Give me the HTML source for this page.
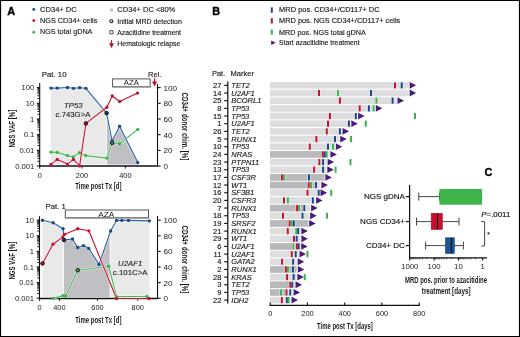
<!DOCTYPE html><html><head><meta charset="utf-8"><style>html,body{margin:0;padding:0;background:#fff;}svg{display:block;will-change:transform;}</style></head><body>
<svg width="520" height="337" viewBox="0 0 520 337" font-family="'Liberation Sans', sans-serif">
<rect x="0" y="0" width="520" height="337" fill="#fff"/>
<text x="7.3" y="15.3" font-size="11" text-anchor="start" font-weight="bold" font-style="normal" fill="#000" stroke="#000" stroke-width="0.35">A</text>
<circle cx="33.8" cy="9.4" r="1.45" fill="#164a88"/>
<text x="40" y="12.1" font-size="7.8" text-anchor="start" font-weight="normal" font-style="normal" fill="#1a1a1a" stroke="#1a1a1a" stroke-width="0.15"  textLength="36.8" lengthAdjust="spacingAndGlyphs">CD34+ DC</text>
<circle cx="33.8" cy="20.6" r="1.45" fill="#c8102e"/>
<text x="40" y="23.2" font-size="7.8" text-anchor="start" font-weight="normal" font-style="normal" fill="#1a1a1a" stroke="#1a1a1a" stroke-width="0.15"  textLength="57.3" lengthAdjust="spacingAndGlyphs">NGS CD34+ cells</text>
<circle cx="33.8" cy="32.2" r="1.45" fill="#3bb54a"/>
<text x="40" y="34.1" font-size="7.8" text-anchor="start" font-weight="normal" font-style="normal" fill="#1a1a1a" stroke="#1a1a1a" stroke-width="0.15"  textLength="52.4" lengthAdjust="spacingAndGlyphs">NGS total gDNA</text>
<rect x="110.1" y="8.5" width="2.9" height="2.9" fill="#bfbfbf"/>
<circle cx="111.4" cy="21.2" r="1.55" fill="none" stroke="#111" stroke-width="1.05"/>
<rect x="109.9" y="30.7" width="3.1" height="3.1" fill="none" stroke="#444" stroke-width="0.9"/>
<line x1="111.5" y1="40.2" x2="111.5" y2="44" stroke="#c8102e" stroke-width="1.2"/>
<polygon points="109,43.3 114,43.3 111.5,48.3" fill="#c8102e"/>
<text x="117.3" y="12.4" font-size="7.8" text-anchor="start" font-weight="normal" font-style="normal" fill="#1a1a1a" stroke="#1a1a1a" stroke-width="0.15"  textLength="58.0" lengthAdjust="spacingAndGlyphs">CD34+ DC &lt;80%</text>
<text x="117.3" y="23.5" font-size="7.8" text-anchor="start" font-weight="normal" font-style="normal" fill="#1a1a1a" stroke="#1a1a1a" stroke-width="0.15"  textLength="64.6" lengthAdjust="spacingAndGlyphs">Initial MRD detection</text>
<text x="117.3" y="34.6" font-size="7.8" text-anchor="start" font-weight="normal" font-style="normal" fill="#1a1a1a" stroke="#1a1a1a" stroke-width="0.15"  textLength="63.7" lengthAdjust="spacingAndGlyphs">Azacitidine treatment</text>
<text x="117.3" y="46.4" font-size="7.8" text-anchor="start" font-weight="normal" font-style="normal" fill="#1a1a1a" stroke="#1a1a1a" stroke-width="0.15"  textLength="63.0" lengthAdjust="spacingAndGlyphs">Hematologic relapse</text>
<text x="41.8" y="76.6" font-size="7.8" text-anchor="start" font-weight="normal" font-style="normal" fill="#1a1a1a" stroke="#1a1a1a" stroke-width="0.15" >Pat. 10</text>
<polygon points="51,88.6 86,88.8 106.2,112.6 106.2,164.6 51,164.6" fill="#e9e9ea"/>
<polygon points="106.9,113.3 112.1,141 119.6,126.3 137.8,162.5 138.8,164.6 106.9,164.6" fill="#c0bfc4"/>
<line x1="39.7" y1="83" x2="39.7" y2="166" stroke="#111" stroke-width="1.1"/>
<line x1="36.800000000000004" y1="87.6" x2="39.7" y2="87.6" stroke="#111" stroke-width="1.1"/>
<text x="34.2" y="90.19999999999999" font-size="7.6" text-anchor="end" font-weight="normal" font-style="normal" fill="#1a1a1a" >100</text>
<line x1="37.400000000000006" y1="98.56" x2="39.7" y2="98.56" stroke="#111" stroke-width="0.9"/>
<line x1="37.400000000000006" y1="95.80" x2="39.7" y2="95.80" stroke="#111" stroke-width="0.9"/>
<line x1="37.400000000000006" y1="93.84" x2="39.7" y2="93.84" stroke="#111" stroke-width="0.9"/>
<line x1="37.400000000000006" y1="92.32" x2="39.7" y2="92.32" stroke="#111" stroke-width="0.9"/>
<line x1="37.400000000000006" y1="91.08" x2="39.7" y2="91.08" stroke="#111" stroke-width="0.9"/>
<line x1="37.400000000000006" y1="90.03" x2="39.7" y2="90.03" stroke="#111" stroke-width="0.9"/>
<line x1="37.400000000000006" y1="89.12" x2="39.7" y2="89.12" stroke="#111" stroke-width="0.9"/>
<line x1="37.400000000000006" y1="88.32" x2="39.7" y2="88.32" stroke="#111" stroke-width="0.9"/>
<line x1="36.800000000000004" y1="103.28" x2="39.7" y2="103.28" stroke="#111" stroke-width="1.1"/>
<text x="34.2" y="105.88" font-size="7.6" text-anchor="end" font-weight="normal" font-style="normal" fill="#1a1a1a" >10</text>
<line x1="37.400000000000006" y1="114.24" x2="39.7" y2="114.24" stroke="#111" stroke-width="0.9"/>
<line x1="37.400000000000006" y1="111.48" x2="39.7" y2="111.48" stroke="#111" stroke-width="0.9"/>
<line x1="37.400000000000006" y1="109.52" x2="39.7" y2="109.52" stroke="#111" stroke-width="0.9"/>
<line x1="37.400000000000006" y1="108.00" x2="39.7" y2="108.00" stroke="#111" stroke-width="0.9"/>
<line x1="37.400000000000006" y1="106.76" x2="39.7" y2="106.76" stroke="#111" stroke-width="0.9"/>
<line x1="37.400000000000006" y1="105.71" x2="39.7" y2="105.71" stroke="#111" stroke-width="0.9"/>
<line x1="37.400000000000006" y1="104.80" x2="39.7" y2="104.80" stroke="#111" stroke-width="0.9"/>
<line x1="37.400000000000006" y1="104.00" x2="39.7" y2="104.00" stroke="#111" stroke-width="0.9"/>
<line x1="36.800000000000004" y1="118.96" x2="39.7" y2="118.96" stroke="#111" stroke-width="1.1"/>
<text x="34.2" y="121.55999999999999" font-size="7.6" text-anchor="end" font-weight="normal" font-style="normal" fill="#1a1a1a" >1</text>
<line x1="37.400000000000006" y1="129.92" x2="39.7" y2="129.92" stroke="#111" stroke-width="0.9"/>
<line x1="37.400000000000006" y1="127.16" x2="39.7" y2="127.16" stroke="#111" stroke-width="0.9"/>
<line x1="37.400000000000006" y1="125.20" x2="39.7" y2="125.20" stroke="#111" stroke-width="0.9"/>
<line x1="37.400000000000006" y1="123.68" x2="39.7" y2="123.68" stroke="#111" stroke-width="0.9"/>
<line x1="37.400000000000006" y1="122.44" x2="39.7" y2="122.44" stroke="#111" stroke-width="0.9"/>
<line x1="37.400000000000006" y1="121.39" x2="39.7" y2="121.39" stroke="#111" stroke-width="0.9"/>
<line x1="37.400000000000006" y1="120.48" x2="39.7" y2="120.48" stroke="#111" stroke-width="0.9"/>
<line x1="37.400000000000006" y1="119.68" x2="39.7" y2="119.68" stroke="#111" stroke-width="0.9"/>
<line x1="36.800000000000004" y1="134.64" x2="39.7" y2="134.64" stroke="#111" stroke-width="1.1"/>
<text x="34.2" y="137.23999999999998" font-size="7.6" text-anchor="end" font-weight="normal" font-style="normal" fill="#1a1a1a" >0.1</text>
<line x1="37.400000000000006" y1="145.60" x2="39.7" y2="145.60" stroke="#111" stroke-width="0.9"/>
<line x1="37.400000000000006" y1="142.84" x2="39.7" y2="142.84" stroke="#111" stroke-width="0.9"/>
<line x1="37.400000000000006" y1="140.88" x2="39.7" y2="140.88" stroke="#111" stroke-width="0.9"/>
<line x1="37.400000000000006" y1="139.36" x2="39.7" y2="139.36" stroke="#111" stroke-width="0.9"/>
<line x1="37.400000000000006" y1="138.12" x2="39.7" y2="138.12" stroke="#111" stroke-width="0.9"/>
<line x1="37.400000000000006" y1="137.07" x2="39.7" y2="137.07" stroke="#111" stroke-width="0.9"/>
<line x1="37.400000000000006" y1="136.16" x2="39.7" y2="136.16" stroke="#111" stroke-width="0.9"/>
<line x1="37.400000000000006" y1="135.36" x2="39.7" y2="135.36" stroke="#111" stroke-width="0.9"/>
<line x1="36.800000000000004" y1="150.32" x2="39.7" y2="150.32" stroke="#111" stroke-width="1.1"/>
<text x="34.2" y="152.92" font-size="7.6" text-anchor="end" font-weight="normal" font-style="normal" fill="#1a1a1a" >0.01</text>
<line x1="37.400000000000006" y1="161.28" x2="39.7" y2="161.28" stroke="#111" stroke-width="0.9"/>
<line x1="37.400000000000006" y1="158.52" x2="39.7" y2="158.52" stroke="#111" stroke-width="0.9"/>
<line x1="37.400000000000006" y1="156.56" x2="39.7" y2="156.56" stroke="#111" stroke-width="0.9"/>
<line x1="37.400000000000006" y1="155.04" x2="39.7" y2="155.04" stroke="#111" stroke-width="0.9"/>
<line x1="37.400000000000006" y1="153.80" x2="39.7" y2="153.80" stroke="#111" stroke-width="0.9"/>
<line x1="37.400000000000006" y1="152.75" x2="39.7" y2="152.75" stroke="#111" stroke-width="0.9"/>
<line x1="37.400000000000006" y1="151.84" x2="39.7" y2="151.84" stroke="#111" stroke-width="0.9"/>
<line x1="37.400000000000006" y1="151.04" x2="39.7" y2="151.04" stroke="#111" stroke-width="0.9"/>
<line x1="36.800000000000004" y1="166.0" x2="39.7" y2="166.0" stroke="#111" stroke-width="1.1"/>
<text x="34.2" y="168.6" font-size="7.6" text-anchor="end" font-weight="normal" font-style="normal" fill="#1a1a1a" >0.001</text>
<line x1="157.5" y1="83.8" x2="157.5" y2="166" stroke="#111" stroke-width="1.1"/>
<line x1="157.5" y1="87.6" x2="160.7" y2="87.6" stroke="#111" stroke-width="1.1"/>
<text x="163.6" y="90.5" font-size="8.1" text-anchor="start" font-weight="normal" font-style="normal" fill="#1a1a1a" >100</text>
<line x1="157.5" y1="103.28" x2="160.7" y2="103.28" stroke="#111" stroke-width="1.1"/>
<text x="163.6" y="106.18" font-size="8.1" text-anchor="start" font-weight="normal" font-style="normal" fill="#1a1a1a" >80</text>
<line x1="157.5" y1="118.96" x2="160.7" y2="118.96" stroke="#111" stroke-width="1.1"/>
<text x="163.6" y="121.86" font-size="8.1" text-anchor="start" font-weight="normal" font-style="normal" fill="#1a1a1a" >60</text>
<line x1="157.5" y1="134.64" x2="160.7" y2="134.64" stroke="#111" stroke-width="1.1"/>
<text x="163.6" y="137.54" font-size="8.1" text-anchor="start" font-weight="normal" font-style="normal" fill="#1a1a1a" >40</text>
<line x1="157.5" y1="150.32" x2="160.7" y2="150.32" stroke="#111" stroke-width="1.1"/>
<text x="163.6" y="153.22" font-size="8.1" text-anchor="start" font-weight="normal" font-style="normal" fill="#1a1a1a" >20</text>
<line x1="157.5" y1="166.0" x2="160.7" y2="166.0" stroke="#111" stroke-width="1.1"/>
<text x="163.6" y="168.9" font-size="8.1" text-anchor="start" font-weight="normal" font-style="normal" fill="#1a1a1a" >0</text>
<line x1="39.2" y1="166" x2="158" y2="166" stroke="#111" stroke-width="1.4"/>
<line x1="39.7" y1="166" x2="39.7" y2="168.6" stroke="#111" stroke-width="0.9"/>
<text x="39.7" y="177.5" font-size="7.4" text-anchor="middle" font-weight="normal" font-style="normal" fill="#1a1a1a" >0</text>
<line x1="82" y1="166" x2="82" y2="168.6" stroke="#111" stroke-width="0.9"/>
<text x="82" y="177.5" font-size="7.4" text-anchor="middle" font-weight="normal" font-style="normal" fill="#1a1a1a" >200</text>
<line x1="125.4" y1="166" x2="125.4" y2="168.6" stroke="#111" stroke-width="0.9"/>
<text x="125.4" y="177.5" font-size="7.4" text-anchor="middle" font-weight="normal" font-style="normal" fill="#1a1a1a" >400</text>
<text x="0" y="0" transform="translate(75.2,189.4) rotate(0)" font-size="8.6" font-weight="bold" fill="#1a1a1a" textLength="46.2" lengthAdjust="spacingAndGlyphs">Time post Tx [d]</text>
<text x="0" y="0" transform="translate(15.1,147.6) rotate(-90)" font-size="8.8" font-weight="bold" fill="#1a1a1a" textLength="37.9" lengthAdjust="spacingAndGlyphs">NGS VAF [%]</text>
<text x="0" y="0" transform="translate(181.6,92.6) rotate(90)" font-size="8.6" font-weight="bold" fill="#1a1a1a" textLength="19.3" lengthAdjust="spacingAndGlyphs">CD34+</text>
<text x="0" y="0" transform="translate(181.6,113.9) rotate(90)" font-size="8.6" font-weight="bold" fill="#1a1a1a" textLength="46.3" lengthAdjust="spacingAndGlyphs">donor chim. [%]</text>
<text x="64" y="107.5" font-size="7.8" text-anchor="start" font-weight="normal" font-style="italic" fill="#1a1a1a" stroke="#1a1a1a" stroke-width="0.12">TP53</text>
<text x="55.6" y="116.9" font-size="7.8" text-anchor="start" font-weight="normal" font-style="normal" fill="#1a1a1a" stroke="#1a1a1a" stroke-width="0.12" textLength="34.8" lengthAdjust="spacingAndGlyphs">c.743G&gt;A</text>
<rect x="112.6" y="78.9" width="37.6" height="7.9" fill="#fff" stroke="#555" stroke-width="1"/>
<line x1="112.6" y1="87" x2="150.2" y2="87" stroke="#888" stroke-width="1"/>
<text x="131.3" y="85.4" font-size="7.2" text-anchor="middle" font-weight="normal" font-style="normal" fill="#1a1a1a"  textLength="15" lengthAdjust="spacingAndGlyphs">AZA</text>
<text x="148.1" y="76.6" font-size="7.5" text-anchor="start" font-weight="normal" font-style="normal" fill="#1a1a1a" stroke="#1a1a1a" stroke-width="0.15" >Rel.</text>
<line x1="154.6" y1="78.3" x2="154.6" y2="82" stroke="#c8102e" stroke-width="1.2"/>
<polygon points="152,81.4 157.2,81.4 154.6,86.6" fill="#c8102e"/>
<polyline points="51,152.1 57.25,152.4 67.5,155.6 73.4,157 79.4,152.75 85.6,155.6 106.9,158.1 112.1,142.9 119.6,143.75 137.75,129.4" fill="none" stroke="#fff" stroke-opacity="0.75" stroke-width="2.25" stroke-linejoin="round"/>
<polyline points="51,152.1 57.25,152.4 67.5,155.6 73.4,157 79.4,152.75 85.6,155.6 106.9,158.1 112.1,142.9 119.6,143.75 137.75,129.4" fill="none" stroke="#4aba56" stroke-width="1.15" stroke-linejoin="round"/>
<polyline points="51,88.1 57.25,88.1 67.5,87.5 73.5,88.3 79.75,87.7 85.9,88.3 106.6,113.1 112.1,141 119.6,126.25 137.75,162.5" fill="none" stroke="#fff" stroke-opacity="0.75" stroke-width="2.2" stroke-linejoin="round"/>
<polyline points="51,88.1 57.25,88.1 67.5,87.5 73.5,88.3 79.75,87.7 85.9,88.3 106.6,113.1 112.1,141 119.6,126.25 137.75,162.5" fill="none" stroke="#2a60a0" stroke-width="1.1" stroke-linejoin="round"/>
<polyline points="51,164.4 57.25,159.4 67.5,164.1 73.4,159.4 79.6,165.9 85.9,123.4 106.9,107.25 112.25,96 119.75,101.5 137.5,93.1" fill="none" stroke="#fff" stroke-opacity="0.75" stroke-width="2.2" stroke-linejoin="round"/>
<polyline points="51,164.4 57.25,159.4 67.5,164.1 73.4,159.4 79.6,165.9 85.9,123.4 106.9,107.25 112.25,96 119.75,101.5 137.5,93.1" fill="none" stroke="#c8102e" stroke-width="1.1" stroke-linejoin="round"/>
<circle cx="51" cy="152.1" r="1.65" fill="#3bb54a"/>
<circle cx="57.25" cy="152.4" r="1.65" fill="#3bb54a"/>
<circle cx="67.5" cy="155.6" r="1.65" fill="#3bb54a"/>
<circle cx="73.4" cy="157" r="1.65" fill="#3bb54a"/>
<circle cx="79.4" cy="152.75" r="1.65" fill="#3bb54a"/>
<circle cx="85.6" cy="155.6" r="1.65" fill="#3bb54a"/>
<circle cx="106.9" cy="158.1" r="1.65" fill="#3bb54a"/>
<circle cx="112.1" cy="142.9" r="1.75" fill="#3bb54a" stroke="#000" stroke-width="0.95"/>
<circle cx="119.6" cy="143.75" r="1.65" fill="#3bb54a"/>
<circle cx="137.75" cy="129.4" r="1.65" fill="#3bb54a"/>
<circle cx="51" cy="88.1" r="1.65" fill="#164a88"/>
<circle cx="57.25" cy="88.1" r="1.65" fill="#164a88"/>
<circle cx="67.5" cy="87.5" r="1.65" fill="#164a88"/>
<circle cx="73.5" cy="88.3" r="1.65" fill="#164a88"/>
<circle cx="79.75" cy="87.7" r="1.65" fill="#164a88"/>
<circle cx="85.9" cy="88.3" r="1.65" fill="#164a88"/>
<circle cx="106.6" cy="113.1" r="1.75" fill="#164a88" stroke="#000" stroke-width="0.95"/>
<circle cx="112.1" cy="141" r="1.65" fill="#164a88"/>
<circle cx="119.6" cy="126.25" r="1.65" fill="#164a88"/>
<circle cx="137.75" cy="162.5" r="1.65" fill="#164a88"/>
<circle cx="51" cy="164.4" r="1.65" fill="#c8102e"/>
<circle cx="57.25" cy="159.4" r="1.65" fill="#c8102e"/>
<circle cx="67.5" cy="164.1" r="1.65" fill="#c8102e"/>
<circle cx="73.4" cy="159.4" r="1.65" fill="#c8102e"/>
<circle cx="79.6" cy="165.9" r="1.65" fill="#c8102e"/>
<circle cx="85.9" cy="123.4" r="1.75" fill="#c8102e" stroke="#000" stroke-width="0.95"/>
<circle cx="106.9" cy="107.25" r="1.65" fill="#c8102e"/>
<circle cx="112.25" cy="96" r="1.65" fill="#c8102e"/>
<circle cx="119.75" cy="101.5" r="1.65" fill="#c8102e"/>
<circle cx="137.5" cy="93.1" r="1.65" fill="#c8102e"/>
<text x="45.5" y="209.4" font-size="7.8" text-anchor="start" font-weight="normal" font-style="normal" fill="#1a1a1a" stroke="#1a1a1a" stroke-width="0.15" >Pat. 1</text>
<polygon points="42.5,220.3 53.1,222.8 63.1,228.8 63.3,232 63.3,297.1 42.5,297.1" fill="#e9e9ea"/>
<polygon points="64,240 72.5,239 77.75,247.5 83.5,245.6 88.75,248.4 99,264.4 109.7,233.6 109.7,297.1 64,297.1" fill="#c0bfc4"/>
<polygon points="110.6,229.5 116.5,220.4 128.5,220.4 149.4,220.9 149.4,297.1 110.6,297.1" fill="#e9e9ea"/>
<line x1="39.5" y1="216.2" x2="39.5" y2="298.5" stroke="#111" stroke-width="1.1"/>
<line x1="36.6" y1="220.2" x2="39.5" y2="220.2" stroke="#111" stroke-width="1.1"/>
<text x="34.0" y="222.79999999999998" font-size="7.6" text-anchor="end" font-weight="normal" font-style="normal" fill="#1a1a1a" >10</text>
<line x1="37.2" y1="231.10" x2="39.5" y2="231.10" stroke="#111" stroke-width="0.9"/>
<line x1="37.2" y1="228.36" x2="39.5" y2="228.36" stroke="#111" stroke-width="0.9"/>
<line x1="37.2" y1="226.41" x2="39.5" y2="226.41" stroke="#111" stroke-width="0.9"/>
<line x1="37.2" y1="224.90" x2="39.5" y2="224.90" stroke="#111" stroke-width="0.9"/>
<line x1="37.2" y1="223.66" x2="39.5" y2="223.66" stroke="#111" stroke-width="0.9"/>
<line x1="37.2" y1="222.62" x2="39.5" y2="222.62" stroke="#111" stroke-width="0.9"/>
<line x1="37.2" y1="221.71" x2="39.5" y2="221.71" stroke="#111" stroke-width="0.9"/>
<line x1="37.2" y1="220.91" x2="39.5" y2="220.91" stroke="#111" stroke-width="0.9"/>
<line x1="36.6" y1="235.79999999999998" x2="39.5" y2="235.79999999999998" stroke="#111" stroke-width="1.1"/>
<text x="34.0" y="238.39999999999998" font-size="7.6" text-anchor="end" font-weight="normal" font-style="normal" fill="#1a1a1a" >10</text>
<line x1="37.2" y1="246.70" x2="39.5" y2="246.70" stroke="#111" stroke-width="0.9"/>
<line x1="37.2" y1="243.96" x2="39.5" y2="243.96" stroke="#111" stroke-width="0.9"/>
<line x1="37.2" y1="242.01" x2="39.5" y2="242.01" stroke="#111" stroke-width="0.9"/>
<line x1="37.2" y1="240.50" x2="39.5" y2="240.50" stroke="#111" stroke-width="0.9"/>
<line x1="37.2" y1="239.26" x2="39.5" y2="239.26" stroke="#111" stroke-width="0.9"/>
<line x1="37.2" y1="238.22" x2="39.5" y2="238.22" stroke="#111" stroke-width="0.9"/>
<line x1="37.2" y1="237.31" x2="39.5" y2="237.31" stroke="#111" stroke-width="0.9"/>
<line x1="37.2" y1="236.51" x2="39.5" y2="236.51" stroke="#111" stroke-width="0.9"/>
<line x1="36.6" y1="251.39999999999998" x2="39.5" y2="251.39999999999998" stroke="#111" stroke-width="1.1"/>
<text x="34.0" y="253.99999999999997" font-size="7.6" text-anchor="end" font-weight="normal" font-style="normal" fill="#1a1a1a" >1</text>
<line x1="37.2" y1="262.30" x2="39.5" y2="262.30" stroke="#111" stroke-width="0.9"/>
<line x1="37.2" y1="259.56" x2="39.5" y2="259.56" stroke="#111" stroke-width="0.9"/>
<line x1="37.2" y1="257.61" x2="39.5" y2="257.61" stroke="#111" stroke-width="0.9"/>
<line x1="37.2" y1="256.10" x2="39.5" y2="256.10" stroke="#111" stroke-width="0.9"/>
<line x1="37.2" y1="254.86" x2="39.5" y2="254.86" stroke="#111" stroke-width="0.9"/>
<line x1="37.2" y1="253.82" x2="39.5" y2="253.82" stroke="#111" stroke-width="0.9"/>
<line x1="37.2" y1="252.91" x2="39.5" y2="252.91" stroke="#111" stroke-width="0.9"/>
<line x1="37.2" y1="252.11" x2="39.5" y2="252.11" stroke="#111" stroke-width="0.9"/>
<line x1="36.6" y1="267.0" x2="39.5" y2="267.0" stroke="#111" stroke-width="1.1"/>
<text x="34.0" y="269.6" font-size="7.6" text-anchor="end" font-weight="normal" font-style="normal" fill="#1a1a1a" >0.1</text>
<line x1="37.2" y1="277.90" x2="39.5" y2="277.90" stroke="#111" stroke-width="0.9"/>
<line x1="37.2" y1="275.16" x2="39.5" y2="275.16" stroke="#111" stroke-width="0.9"/>
<line x1="37.2" y1="273.21" x2="39.5" y2="273.21" stroke="#111" stroke-width="0.9"/>
<line x1="37.2" y1="271.70" x2="39.5" y2="271.70" stroke="#111" stroke-width="0.9"/>
<line x1="37.2" y1="270.46" x2="39.5" y2="270.46" stroke="#111" stroke-width="0.9"/>
<line x1="37.2" y1="269.42" x2="39.5" y2="269.42" stroke="#111" stroke-width="0.9"/>
<line x1="37.2" y1="268.51" x2="39.5" y2="268.51" stroke="#111" stroke-width="0.9"/>
<line x1="37.2" y1="267.71" x2="39.5" y2="267.71" stroke="#111" stroke-width="0.9"/>
<line x1="36.6" y1="282.59999999999997" x2="39.5" y2="282.59999999999997" stroke="#111" stroke-width="1.1"/>
<text x="34.0" y="285.2" font-size="7.6" text-anchor="end" font-weight="normal" font-style="normal" fill="#1a1a1a" >0.01</text>
<line x1="37.2" y1="293.50" x2="39.5" y2="293.50" stroke="#111" stroke-width="0.9"/>
<line x1="37.2" y1="290.76" x2="39.5" y2="290.76" stroke="#111" stroke-width="0.9"/>
<line x1="37.2" y1="288.81" x2="39.5" y2="288.81" stroke="#111" stroke-width="0.9"/>
<line x1="37.2" y1="287.30" x2="39.5" y2="287.30" stroke="#111" stroke-width="0.9"/>
<line x1="37.2" y1="286.06" x2="39.5" y2="286.06" stroke="#111" stroke-width="0.9"/>
<line x1="37.2" y1="285.02" x2="39.5" y2="285.02" stroke="#111" stroke-width="0.9"/>
<line x1="37.2" y1="284.11" x2="39.5" y2="284.11" stroke="#111" stroke-width="0.9"/>
<line x1="37.2" y1="283.31" x2="39.5" y2="283.31" stroke="#111" stroke-width="0.9"/>
<line x1="36.6" y1="298.2" x2="39.5" y2="298.2" stroke="#111" stroke-width="1.1"/>
<text x="34.0" y="300.8" font-size="7.6" text-anchor="end" font-weight="normal" font-style="normal" fill="#1a1a1a" >0.001</text>
<line x1="157.5" y1="216" x2="157.5" y2="298.5" stroke="#111" stroke-width="1.1"/>
<line x1="157.5" y1="220.2" x2="160.7" y2="220.2" stroke="#111" stroke-width="1.1"/>
<text x="163.6" y="223.1" font-size="8.1" text-anchor="start" font-weight="normal" font-style="normal" fill="#1a1a1a" >100</text>
<line x1="157.5" y1="235.79999999999998" x2="160.7" y2="235.79999999999998" stroke="#111" stroke-width="1.1"/>
<text x="163.6" y="238.7" font-size="8.1" text-anchor="start" font-weight="normal" font-style="normal" fill="#1a1a1a" >80</text>
<line x1="157.5" y1="251.39999999999998" x2="160.7" y2="251.39999999999998" stroke="#111" stroke-width="1.1"/>
<text x="163.6" y="254.29999999999998" font-size="8.1" text-anchor="start" font-weight="normal" font-style="normal" fill="#1a1a1a" >60</text>
<line x1="157.5" y1="267.0" x2="160.7" y2="267.0" stroke="#111" stroke-width="1.1"/>
<text x="163.6" y="269.9" font-size="8.1" text-anchor="start" font-weight="normal" font-style="normal" fill="#1a1a1a" >40</text>
<line x1="157.5" y1="282.59999999999997" x2="160.7" y2="282.59999999999997" stroke="#111" stroke-width="1.1"/>
<text x="163.6" y="285.49999999999994" font-size="8.1" text-anchor="start" font-weight="normal" font-style="normal" fill="#1a1a1a" >20</text>
<line x1="157.5" y1="298.2" x2="160.7" y2="298.2" stroke="#111" stroke-width="1.1"/>
<text x="163.6" y="301.09999999999997" font-size="8.1" text-anchor="start" font-weight="normal" font-style="normal" fill="#1a1a1a" >0</text>
<line x1="39" y1="298.5" x2="158" y2="298.5" stroke="#111" stroke-width="1.4"/>
<line x1="39.6" y1="298.5" x2="39.6" y2="301" stroke="#111" stroke-width="0.9"/>
<text x="39.6" y="310.1" font-size="7.4" text-anchor="middle" font-weight="normal" font-style="normal" fill="#1a1a1a" >0</text>
<line x1="59.4" y1="298.5" x2="59.4" y2="301" stroke="#111" stroke-width="0.9"/>
<text x="59.4" y="310.1" font-size="7.4" text-anchor="middle" font-weight="normal" font-style="normal" fill="#1a1a1a" >400</text>
<line x1="97.5" y1="298.5" x2="97.5" y2="301" stroke="#111" stroke-width="0.9"/>
<text x="97.5" y="310.1" font-size="7.4" text-anchor="middle" font-weight="normal" font-style="normal" fill="#1a1a1a" >600</text>
<line x1="137.75" y1="298.5" x2="137.75" y2="301" stroke="#111" stroke-width="0.9"/>
<text x="137.75" y="310.1" font-size="7.4" text-anchor="middle" font-weight="normal" font-style="normal" fill="#1a1a1a" >800</text>
<text x="0" y="0" transform="translate(75.2,322.7) rotate(0)" font-size="8.6" font-weight="bold" fill="#1a1a1a" textLength="46.2" lengthAdjust="spacingAndGlyphs">Time post Tx [d]</text>
<text x="0" y="0" transform="translate(15.1,279.6) rotate(-90)" font-size="8.8" font-weight="bold" fill="#1a1a1a" textLength="37.9" lengthAdjust="spacingAndGlyphs">NGS VAF [%]</text>
<text x="0" y="0" transform="translate(181.6,225.6) rotate(90)" font-size="8.6" font-weight="bold" fill="#1a1a1a" textLength="19.3" lengthAdjust="spacingAndGlyphs">CD34+</text>
<text x="0" y="0" transform="translate(181.6,246.9) rotate(90)" font-size="8.6" font-weight="bold" fill="#1a1a1a" textLength="46.3" lengthAdjust="spacingAndGlyphs">donor chim. [%]</text>
<rect x="65.3" y="210" width="83.2" height="7.8" fill="#fff" stroke="#555" stroke-width="1"/>
<line x1="65.3" y1="218.1" x2="148.5" y2="218.1" stroke="#888" stroke-width="1"/>
<text x="106.3" y="217" font-size="7.2" text-anchor="middle" font-weight="normal" font-style="normal" fill="#1a1a1a"  textLength="16" lengthAdjust="spacingAndGlyphs">AZA</text>
<text x="118.1" y="265.6" font-size="7.8" text-anchor="start" font-weight="normal" font-style="italic" fill="#1a1a1a" stroke="#1a1a1a" stroke-width="0.12">U2AF1</text>
<text x="112.75" y="275" font-size="7.8" text-anchor="start" font-weight="normal" font-style="normal" fill="#1a1a1a" stroke="#1a1a1a" stroke-width="0.12" textLength="34.9" lengthAdjust="spacingAndGlyphs">c.101C&gt;A</text>
<polyline points="53.1,298.4 63.1,295.6 65.6,295.9 77.75,270.25 108.75,266.25 116.5,296.6 146.9,296.5" fill="none" stroke="#fff" stroke-opacity="0.75" stroke-width="2.25" stroke-linejoin="round"/>
<polyline points="53.1,298.4 63.1,295.6 65.6,295.9 77.75,270.25 108.75,266.25 116.5,296.6 146.9,296.5" fill="none" stroke="#4aba56" stroke-width="1.15" stroke-linejoin="round"/>
<polyline points="42.5,220.25 53.1,222.75 63.1,228.75 64,240 72.5,239 77.75,247.5 83.5,245.6 88.75,248.4 99,264.4 110.6,231 116.5,220.4 121.9,220.4 128.5,220.4 149.4,220.9" fill="none" stroke="#fff" stroke-opacity="0.75" stroke-width="2.2" stroke-linejoin="round"/>
<polyline points="42.5,220.25 53.1,222.75 63.1,228.75 64,240 72.5,239 77.75,247.5 83.5,245.6 88.75,248.4 99,264.4 110.6,231 116.5,220.4 121.9,220.4 128.5,220.4 149.4,220.9" fill="none" stroke="#2a60a0" stroke-width="1.1" stroke-linejoin="round"/>
<polyline points="42.5,263.4 53,244.2 62.75,237.1 64.4,234.4 77.7,228.75 88.9,230.8 116.5,298.5 149,298.5" fill="none" stroke="#fff" stroke-opacity="0.75" stroke-width="2.2" stroke-linejoin="round"/>
<polyline points="42.5,263.4 53,244.2 62.75,237.1 64.4,234.4 77.7,228.75 88.9,230.8 116.5,298.5 149,298.5" fill="none" stroke="#c8102e" stroke-width="1.1" stroke-linejoin="round"/>
<circle cx="53.1" cy="298.4" r="1.65" fill="#3bb54a"/>
<circle cx="63.1" cy="295.6" r="1.65" fill="#3bb54a"/>
<circle cx="65.6" cy="295.9" r="1.65" fill="#3bb54a"/>
<circle cx="77.75" cy="270.25" r="1.75" fill="#3bb54a" stroke="#000" stroke-width="0.95"/>
<circle cx="108.75" cy="266.25" r="1.65" fill="#3bb54a"/>
<circle cx="116.5" cy="296.6" r="1.65" fill="#3bb54a"/>
<circle cx="146.9" cy="296.5" r="1.65" fill="#3bb54a"/>
<circle cx="42.5" cy="220.25" r="1.65" fill="#164a88"/>
<circle cx="53.1" cy="222.75" r="1.65" fill="#164a88"/>
<circle cx="63.1" cy="228.75" r="1.65" fill="#164a88"/>
<circle cx="64" cy="240" r="1.75" fill="#164a88" stroke="#000" stroke-width="0.95"/>
<circle cx="72.5" cy="239" r="1.65" fill="#164a88"/>
<circle cx="77.75" cy="247.5" r="1.65" fill="#164a88"/>
<circle cx="83.5" cy="245.6" r="1.65" fill="#164a88"/>
<circle cx="88.75" cy="248.4" r="1.65" fill="#164a88"/>
<circle cx="99" cy="264.4" r="1.65" fill="#164a88"/>
<circle cx="110.6" cy="231" r="1.65" fill="#164a88"/>
<circle cx="116.5" cy="220.4" r="1.65" fill="#164a88"/>
<circle cx="121.9" cy="220.4" r="1.65" fill="#164a88"/>
<circle cx="128.5" cy="220.4" r="1.65" fill="#164a88"/>
<circle cx="149.4" cy="220.9" r="1.65" fill="#164a88"/>
<circle cx="42.5" cy="263.4" r="1.75" fill="#c8102e" stroke="#000" stroke-width="0.95"/>
<circle cx="53" cy="244.2" r="1.65" fill="#c8102e"/>
<circle cx="62.75" cy="237.1" r="1.65" fill="#c8102e"/>
<circle cx="64.4" cy="234.4" r="1.65" fill="#c8102e"/>
<circle cx="77.7" cy="228.75" r="1.65" fill="#c8102e"/>
<circle cx="88.9" cy="230.8" r="1.65" fill="#c8102e"/>
<circle cx="116.5" cy="298.5" r="1.65" fill="#c8102e"/>
<circle cx="149" cy="298.5" r="1.65" fill="#c8102e"/>
<text x="212.3" y="15.2" font-size="10.8" text-anchor="start" font-weight="bold" font-style="normal" fill="#000" stroke="#000" stroke-width="0.35">B</text>
<rect x="270.8" y="7.4" width="2" height="5.4" fill="#164a88"/>
<text x="279.1" y="12.3" font-size="7.5" text-anchor="start" font-weight="normal" font-style="normal" fill="#1a1a1a" stroke="#1a1a1a" stroke-width="0.15"  textLength="100.5" lengthAdjust="spacingAndGlyphs">MRD pos. CD34+/CD117+ DC</text>
<rect x="270.8" y="18.1" width="2" height="5.4" fill="#c8102e"/>
<text x="279.1" y="23.4" font-size="7.5" text-anchor="start" font-weight="normal" font-style="normal" fill="#1a1a1a" stroke="#1a1a1a" stroke-width="0.15"  textLength="121.2" lengthAdjust="spacingAndGlyphs">MRD pos. NGS CD34+/CD117+ cells</text>
<rect x="270.8" y="29.4" width="2" height="5.4" fill="#3bb54a"/>
<text x="279.1" y="34.6" font-size="7.5" text-anchor="start" font-weight="normal" font-style="normal" fill="#1a1a1a" stroke="#1a1a1a" stroke-width="0.15"  textLength="86.7" lengthAdjust="spacingAndGlyphs">MRD pos. NGS total gDNA</text>
<polygon points="271.2,40.5 275.6,42.7 271.2,44.9" fill="#4a1a78"/>
<text x="279.1" y="45.4" font-size="7.5" text-anchor="start" font-weight="normal" font-style="normal" fill="#1a1a1a" stroke="#1a1a1a" stroke-width="0.15"  textLength="80.5" lengthAdjust="spacingAndGlyphs">Start azacitidine treatment</text>
<text x="211.9" y="75.6" font-size="7.5" text-anchor="start" font-weight="normal" font-style="normal" fill="#1a1a1a" stroke="#1a1a1a" stroke-width="0.15" >Pat.</text>
<text x="230.6" y="75.6" font-size="7.5" text-anchor="start" font-weight="normal" font-style="normal" fill="#1a1a1a" stroke="#1a1a1a" stroke-width="0.15" >Marker</text>
<line x1="227.8" y1="81.5" x2="227.8" y2="303.6" stroke="#111" stroke-width="1.25"/>
<line x1="224.2" y1="85.35" x2="227.8" y2="85.35" stroke="#111" stroke-width="1.15"/>
<text x="221.4" y="88.00" font-size="7.5" text-anchor="end" font-weight="normal" font-style="normal" fill="#1a1a1a" stroke="#1a1a1a" stroke-width="0.15" >27</text>
<text x="231.3" y="88.00" font-size="7.5" text-anchor="start" font-weight="normal" font-style="italic" fill="#1a1a1a" stroke="#1a1a1a" stroke-width="0.15" >TET2</text>
<rect x="270" y="82.05" width="138.70" height="6.6" fill="#dddddf"/>
<rect x="393.60" y="82.05" width="2.8" height="6.6" fill="#f2f2f2"/>
<rect x="400.30" y="82.05" width="2.8" height="6.6" fill="#f2f2f2"/>
<rect x="394.00" y="82.25" width="2.0" height="6.199999999999999" rx="0.4" fill="#c8102e"/>
<rect x="400.70" y="82.25" width="2.0" height="6.199999999999999" rx="0.4" fill="#164a88"/>
<polygon points="409.60,81.95 416.10,85.35 409.60,88.75" fill="#4a1a78"/>
<line x1="224.2" y1="93.02" x2="227.8" y2="93.02" stroke="#111" stroke-width="1.15"/>
<text x="221.4" y="95.67" font-size="7.5" text-anchor="end" font-weight="normal" font-style="normal" fill="#1a1a1a" stroke="#1a1a1a" stroke-width="0.15" >14</text>
<text x="231.3" y="95.67" font-size="7.5" text-anchor="start" font-weight="normal" font-style="italic" fill="#1a1a1a" stroke="#1a1a1a" stroke-width="0.15" >U2AF1</text>
<rect x="270" y="89.72" width="138.70" height="6.6" fill="#dddddf"/>
<rect x="317.60" y="89.72" width="2.8" height="6.6" fill="#f2f2f2"/>
<rect x="336.60" y="89.72" width="2.8" height="6.6" fill="#f2f2f2"/>
<rect x="369.60" y="89.72" width="2.8" height="6.6" fill="#f2f2f2"/>
<rect x="318.00" y="89.92" width="2.0" height="6.199999999999999" rx="0.4" fill="#c8102e"/>
<rect x="337.00" y="89.92" width="2.0" height="6.199999999999999" rx="0.4" fill="#3bb54a"/>
<rect x="370.00" y="89.92" width="2.0" height="6.199999999999999" rx="0.4" fill="#164a88"/>
<polygon points="409.60,89.62 416.10,93.02 409.60,96.42" fill="#4a1a78"/>
<line x1="224.2" y1="100.69" x2="227.8" y2="100.69" stroke="#111" stroke-width="1.15"/>
<text x="221.4" y="103.34" font-size="7.5" text-anchor="end" font-weight="normal" font-style="normal" fill="#1a1a1a" stroke="#1a1a1a" stroke-width="0.15" >25</text>
<text x="231.3" y="103.34" font-size="7.5" text-anchor="start" font-weight="normal" font-style="italic" fill="#1a1a1a" stroke="#1a1a1a" stroke-width="0.15" >BCORL1</text>
<rect x="270" y="97.39" width="126.60" height="6.6" fill="#dddddf"/>
<rect x="338.50" y="97.39" width="2.8" height="6.6" fill="#f2f2f2"/>
<rect x="375.00" y="97.39" width="2.8" height="6.6" fill="#f2f2f2"/>
<rect x="391.20" y="97.39" width="2.8" height="6.6" fill="#f2f2f2"/>
<rect x="338.90" y="97.59" width="2.0" height="6.199999999999999" rx="0.4" fill="#c8102e"/>
<rect x="375.40" y="97.59" width="2.0" height="6.199999999999999" rx="0.4" fill="#3bb54a"/>
<rect x="391.60" y="97.59" width="2.0" height="6.199999999999999" rx="0.4" fill="#164a88"/>
<polygon points="397.50,97.29 404.00,100.69 397.50,104.09" fill="#4a1a78"/>
<line x1="224.2" y1="108.36" x2="227.8" y2="108.36" stroke="#111" stroke-width="1.15"/>
<text x="221.4" y="111.01" font-size="7.5" text-anchor="end" font-weight="normal" font-style="normal" fill="#1a1a1a" stroke="#1a1a1a" stroke-width="0.15" >8</text>
<text x="231.3" y="111.01" font-size="7.5" text-anchor="start" font-weight="normal" font-style="italic" fill="#1a1a1a" stroke="#1a1a1a" stroke-width="0.15" >TP53</text>
<rect x="270" y="105.06" width="104.90" height="6.6" fill="#dddddf"/>
<rect x="358.30" y="105.06" width="2.8" height="6.6" fill="#f2f2f2"/>
<rect x="367.50" y="105.06" width="2.8" height="6.6" fill="#f2f2f2"/>
<rect x="372.20" y="105.06" width="2.8" height="6.6" fill="#f2f2f2"/>
<rect x="358.70" y="105.26" width="2.0" height="6.199999999999999" rx="0.4" fill="#c8102e"/>
<rect x="367.90" y="105.26" width="2.0" height="6.199999999999999" rx="0.4" fill="#164a88"/>
<rect x="372.60" y="105.26" width="2.0" height="6.199999999999999" rx="0.4" fill="#3bb54a"/>
<polygon points="375.80,104.96 382.30,108.36 375.80,111.76" fill="#4a1a78"/>
<line x1="224.2" y1="116.03" x2="227.8" y2="116.03" stroke="#111" stroke-width="1.15"/>
<text x="221.4" y="118.68" font-size="7.5" text-anchor="end" font-weight="normal" font-style="normal" fill="#1a1a1a" stroke="#1a1a1a" stroke-width="0.15" >15</text>
<text x="231.3" y="118.68" font-size="7.5" text-anchor="start" font-weight="normal" font-style="italic" fill="#1a1a1a" stroke="#1a1a1a" stroke-width="0.15" >TP53</text>
<rect x="270" y="112.73" width="87.20" height="6.6" fill="#dddddf"/>
<rect x="328.50" y="112.73" width="2.8" height="6.6" fill="#f2f2f2"/>
<rect x="354.40" y="112.73" width="2.8" height="6.6" fill="#f2f2f2"/>
<rect x="328.90" y="112.93" width="2.0" height="6.199999999999999" rx="0.4" fill="#c8102e"/>
<rect x="354.80" y="112.93" width="2.0" height="6.199999999999999" rx="0.4" fill="#164a88"/>
<polygon points="358.10,112.63 364.60,116.03 358.10,119.43" fill="#4a1a78"/>
<rect x="414.00" y="112.93" width="2.0" height="6.199999999999999" rx="0.4" fill="#3bb54a"/>
<line x1="224.2" y1="123.70" x2="227.8" y2="123.70" stroke="#111" stroke-width="1.15"/>
<text x="221.4" y="126.35" font-size="7.5" text-anchor="end" font-weight="normal" font-style="normal" fill="#1a1a1a" stroke="#1a1a1a" stroke-width="0.15" >1</text>
<text x="231.3" y="126.35" font-size="7.5" text-anchor="start" font-weight="normal" font-style="italic" fill="#1a1a1a" stroke="#1a1a1a" stroke-width="0.15" >U2AF1</text>
<rect x="270" y="120.40" width="80.40" height="6.6" fill="#dddddf"/>
<rect x="326.60" y="120.40" width="2.8" height="6.6" fill="#f2f2f2"/>
<rect x="347.50" y="120.40" width="2.8" height="6.6" fill="#f2f2f2"/>
<rect x="327.00" y="120.60" width="2.0" height="6.199999999999999" rx="0.4" fill="#c8102e"/>
<rect x="347.90" y="120.60" width="2.0" height="6.199999999999999" rx="0.4" fill="#164a88"/>
<polygon points="351.30,120.30 357.80,123.70 351.30,127.10" fill="#4a1a78"/>
<rect x="364.80" y="120.60" width="2.0" height="6.199999999999999" rx="0.4" fill="#3bb54a"/>
<line x1="224.2" y1="131.37" x2="227.8" y2="131.37" stroke="#111" stroke-width="1.15"/>
<text x="221.4" y="134.02" font-size="7.5" text-anchor="end" font-weight="normal" font-style="normal" fill="#1a1a1a" stroke="#1a1a1a" stroke-width="0.15" >26</text>
<text x="231.3" y="134.02" font-size="7.5" text-anchor="start" font-weight="normal" font-style="italic" fill="#1a1a1a" stroke="#1a1a1a" stroke-width="0.15" >TET2</text>
<rect x="270" y="128.07" width="71.60" height="6.6" fill="#dddddf"/>
<rect x="325.40" y="128.07" width="2.8" height="6.6" fill="#f2f2f2"/>
<rect x="338.50" y="128.07" width="2.8" height="6.6" fill="#f2f2f2"/>
<rect x="325.80" y="128.27" width="2.0" height="6.199999999999999" rx="0.4" fill="#c8102e"/>
<rect x="338.90" y="128.27" width="2.0" height="6.199999999999999" rx="0.4" fill="#164a88"/>
<polygon points="342.50,127.97 349.00,131.37 342.50,134.77" fill="#4a1a78"/>
<line x1="224.2" y1="139.04" x2="227.8" y2="139.04" stroke="#111" stroke-width="1.15"/>
<text x="221.4" y="141.69" font-size="7.5" text-anchor="end" font-weight="normal" font-style="normal" fill="#1a1a1a" stroke="#1a1a1a" stroke-width="0.15" >5</text>
<text x="231.3" y="141.69" font-size="7.5" text-anchor="start" font-weight="normal" font-style="italic" fill="#1a1a1a" stroke="#1a1a1a" stroke-width="0.15" >RUNX1</text>
<rect x="270" y="135.74" width="69.30" height="6.6" fill="#dddddf"/>
<rect x="315.00" y="135.74" width="2.8" height="6.6" fill="#f2f2f2"/>
<rect x="333.60" y="135.74" width="2.8" height="6.6" fill="#f2f2f2"/>
<rect x="315.40" y="135.94" width="2.0" height="6.199999999999999" rx="0.4" fill="#c8102e"/>
<rect x="334.00" y="135.94" width="2.0" height="6.199999999999999" rx="0.4" fill="#164a88"/>
<polygon points="340.20,135.64 346.70,139.04 340.20,142.44" fill="#4a1a78"/>
<rect x="350.00" y="135.94" width="2.0" height="6.199999999999999" rx="0.4" fill="#3bb54a"/>
<line x1="224.2" y1="146.71" x2="227.8" y2="146.71" stroke="#111" stroke-width="1.15"/>
<text x="221.4" y="149.36" font-size="7.5" text-anchor="end" font-weight="normal" font-style="normal" fill="#1a1a1a" stroke="#1a1a1a" stroke-width="0.15" >10</text>
<text x="231.3" y="149.36" font-size="7.5" text-anchor="start" font-weight="normal" font-style="italic" fill="#1a1a1a" stroke="#1a1a1a" stroke-width="0.15" >TP53</text>
<rect x="270" y="143.41" width="64.90" height="6.6" fill="#dddddf"/>
<rect x="308.40" y="143.41" width="2.8" height="6.6" fill="#f2f2f2"/>
<rect x="326.60" y="143.41" width="2.8" height="6.6" fill="#f2f2f2"/>
<rect x="331.60" y="143.41" width="2.8" height="6.6" fill="#f2f2f2"/>
<rect x="308.80" y="143.61" width="2.0" height="6.199999999999999" rx="0.4" fill="#c8102e"/>
<rect x="327.00" y="143.61" width="2.0" height="6.199999999999999" rx="0.4" fill="#164a88"/>
<rect x="332.00" y="143.61" width="2.0" height="6.199999999999999" rx="0.4" fill="#3bb54a"/>
<polygon points="335.80,143.31 342.30,146.71 335.80,150.11" fill="#4a1a78"/>
<line x1="224.2" y1="154.38" x2="227.8" y2="154.38" stroke="#111" stroke-width="1.15"/>
<text x="221.4" y="157.03" font-size="7.5" text-anchor="end" font-weight="normal" font-style="normal" fill="#1a1a1a" stroke="#1a1a1a" stroke-width="0.15" >24</text>
<text x="231.3" y="157.03" font-size="7.5" text-anchor="start" font-weight="normal" font-style="italic" fill="#1a1a1a" stroke="#1a1a1a" stroke-width="0.15" >NRAS</text>
<rect x="270" y="151.08" width="59.50" height="6.6" fill="#dddddf"/>
<rect x="270" y="151.08" width="51.90" height="6.6" fill="#b9b9bd"/>
<rect x="321.40" y="151.08" width="2.8" height="6.6" fill="#f2f2f2"/>
<rect x="323.40" y="151.08" width="2.8" height="6.6" fill="#f2f2f2"/>
<rect x="325.30" y="151.08" width="2.8" height="6.6" fill="#f2f2f2"/>
<rect x="321.80" y="151.28" width="2.0" height="6.199999999999999" rx="0.4" fill="#c8102e"/>
<rect x="323.80" y="151.28" width="2.0" height="6.199999999999999" rx="0.4" fill="#164a88"/>
<rect x="325.70" y="151.28" width="2.0" height="6.199999999999999" rx="0.4" fill="#3bb54a"/>
<polygon points="330.40,150.98 336.90,154.38 330.40,157.78" fill="#4a1a78"/>
<line x1="224.2" y1="162.05" x2="227.8" y2="162.05" stroke="#111" stroke-width="1.15"/>
<text x="221.4" y="164.70" font-size="7.5" text-anchor="end" font-weight="normal" font-style="normal" fill="#1a1a1a" stroke="#1a1a1a" stroke-width="0.15" >23</text>
<text x="231.3" y="164.70" font-size="7.5" text-anchor="start" font-weight="normal" font-style="italic" fill="#1a1a1a" stroke="#1a1a1a" stroke-width="0.15" >PTPN11</text>
<rect x="270" y="158.75" width="56.70" height="6.6" fill="#dddddf"/>
<rect x="318.00" y="158.75" width="2.8" height="6.6" fill="#f2f2f2"/>
<rect x="321.70" y="158.75" width="2.8" height="6.6" fill="#f2f2f2"/>
<rect x="318.40" y="158.95" width="2.0" height="6.199999999999999" rx="0.4" fill="#c8102e"/>
<rect x="322.10" y="158.95" width="2.0" height="6.199999999999999" rx="0.4" fill="#164a88"/>
<polygon points="327.60,158.65 334.10,162.05 327.60,165.45" fill="#4a1a78"/>
<rect x="349.50" y="158.95" width="2.0" height="6.199999999999999" rx="0.4" fill="#3bb54a"/>
<line x1="224.2" y1="169.72" x2="227.8" y2="169.72" stroke="#111" stroke-width="1.15"/>
<text x="221.4" y="172.37" font-size="7.5" text-anchor="end" font-weight="normal" font-style="normal" fill="#1a1a1a" stroke="#1a1a1a" stroke-width="0.15" >13</text>
<text x="231.3" y="172.37" font-size="7.5" text-anchor="start" font-weight="normal" font-style="italic" fill="#1a1a1a" stroke="#1a1a1a" stroke-width="0.15" >TP53</text>
<rect x="270" y="166.42" width="56.40" height="6.6" fill="#dddddf"/>
<rect x="312.70" y="166.42" width="2.8" height="6.6" fill="#f2f2f2"/>
<rect x="321.70" y="166.42" width="2.8" height="6.6" fill="#f2f2f2"/>
<rect x="313.10" y="166.62" width="2.0" height="6.199999999999999" rx="0.4" fill="#c8102e"/>
<rect x="322.10" y="166.62" width="2.0" height="6.199999999999999" rx="0.4" fill="#164a88"/>
<polygon points="327.30,166.32 333.80,169.72 327.30,173.12" fill="#4a1a78"/>
<rect x="334.60" y="166.62" width="2.0" height="6.199999999999999" rx="0.4" fill="#3bb54a"/>
<line x1="224.2" y1="177.39" x2="227.8" y2="177.39" stroke="#111" stroke-width="1.15"/>
<text x="221.4" y="180.04" font-size="7.5" text-anchor="end" font-weight="normal" font-style="normal" fill="#1a1a1a" stroke="#1a1a1a" stroke-width="0.15" >17</text>
<text x="231.3" y="180.04" font-size="7.5" text-anchor="start" font-weight="normal" font-style="italic" fill="#1a1a1a" stroke="#1a1a1a" stroke-width="0.15" >CSF3R</text>
<rect x="270" y="174.09" width="54.50" height="6.6" fill="#dddddf"/>
<rect x="270" y="174.09" width="54.50" height="6.6" fill="#b9b9bd"/>
<rect x="280.50" y="174.09" width="2.8" height="6.6" fill="#f2f2f2"/>
<rect x="282.70" y="174.09" width="2.8" height="6.6" fill="#f2f2f2"/>
<rect x="307.60" y="174.09" width="2.8" height="6.6" fill="#f2f2f2"/>
<rect x="280.90" y="174.29" width="2.0" height="6.199999999999999" rx="0.4" fill="#c8102e"/>
<rect x="283.10" y="174.29" width="2.0" height="6.199999999999999" rx="0.4" fill="#3bb54a"/>
<rect x="308.00" y="174.29" width="2.0" height="6.199999999999999" rx="0.4" fill="#164a88"/>
<polygon points="325.40,173.99 331.90,177.39 325.40,180.79" fill="#4a1a78"/>
<line x1="224.2" y1="185.06" x2="227.8" y2="185.06" stroke="#111" stroke-width="1.15"/>
<text x="221.4" y="187.71" font-size="7.5" text-anchor="end" font-weight="normal" font-style="normal" fill="#1a1a1a" stroke="#1a1a1a" stroke-width="0.15" >12</text>
<text x="231.3" y="187.71" font-size="7.5" text-anchor="start" font-weight="normal" font-style="italic" fill="#1a1a1a" stroke="#1a1a1a" stroke-width="0.15" >WT1</text>
<rect x="270" y="181.76" width="50.50" height="6.6" fill="#dddddf"/>
<rect x="270" y="181.76" width="46.00" height="6.6" fill="#b9b9bd"/>
<rect x="307.30" y="181.76" width="2.8" height="6.6" fill="#f2f2f2"/>
<rect x="309.60" y="181.76" width="2.8" height="6.6" fill="#f2f2f2"/>
<rect x="314.60" y="181.76" width="2.8" height="6.6" fill="#f2f2f2"/>
<rect x="307.70" y="181.96" width="2.0" height="6.199999999999999" rx="0.4" fill="#c8102e"/>
<rect x="310.00" y="181.96" width="2.0" height="6.199999999999999" rx="0.4" fill="#3bb54a"/>
<rect x="315.00" y="181.96" width="2.0" height="6.199999999999999" rx="0.4" fill="#164a88"/>
<polygon points="321.40,181.66 327.90,185.06 321.40,188.46" fill="#4a1a78"/>
<line x1="224.2" y1="192.73" x2="227.8" y2="192.73" stroke="#111" stroke-width="1.15"/>
<text x="221.4" y="195.38" font-size="7.5" text-anchor="end" font-weight="normal" font-style="normal" fill="#1a1a1a" stroke="#1a1a1a" stroke-width="0.15" >16</text>
<text x="231.3" y="195.38" font-size="7.5" text-anchor="start" font-weight="normal" font-style="italic" fill="#1a1a1a" stroke="#1a1a1a" stroke-width="0.15" >SF3B1</text>
<rect x="270" y="189.43" width="49.60" height="6.6" fill="#dddddf"/>
<rect x="306.10" y="189.43" width="2.8" height="6.6" fill="#f2f2f2"/>
<rect x="317.30" y="189.43" width="2.8" height="6.6" fill="#f2f2f2"/>
<rect x="306.50" y="189.63" width="2.0" height="6.199999999999999" rx="0.4" fill="#c8102e"/>
<rect x="317.70" y="189.63" width="2.0" height="6.199999999999999" rx="0.4" fill="#164a88"/>
<polygon points="320.50,189.33 327.00,192.73 320.50,196.13" fill="#4a1a78"/>
<rect x="330.20" y="189.63" width="2.0" height="6.199999999999999" rx="0.4" fill="#3bb54a"/>
<line x1="224.2" y1="200.40" x2="227.8" y2="200.40" stroke="#111" stroke-width="1.15"/>
<text x="221.4" y="203.05" font-size="7.5" text-anchor="end" font-weight="normal" font-style="normal" fill="#1a1a1a" stroke="#1a1a1a" stroke-width="0.15" >20</text>
<text x="231.3" y="203.05" font-size="7.5" text-anchor="start" font-weight="normal" font-style="italic" fill="#1a1a1a" stroke="#1a1a1a" stroke-width="0.15" >CSFR3</text>
<rect x="270" y="197.10" width="45.20" height="6.6" fill="#dddddf"/>
<rect x="282.60" y="197.10" width="2.8" height="6.6" fill="#f2f2f2"/>
<rect x="286.50" y="197.10" width="2.8" height="6.6" fill="#f2f2f2"/>
<rect x="311.50" y="197.10" width="2.8" height="6.6" fill="#f2f2f2"/>
<rect x="283.00" y="197.30" width="2.0" height="6.199999999999999" rx="0.4" fill="#c8102e"/>
<rect x="286.90" y="197.30" width="2.0" height="6.199999999999999" rx="0.4" fill="#3bb54a"/>
<rect x="311.90" y="197.30" width="2.0" height="6.199999999999999" rx="0.4" fill="#164a88"/>
<polygon points="316.10,197.00 322.60,200.40 316.10,203.80" fill="#4a1a78"/>
<line x1="224.2" y1="208.07" x2="227.8" y2="208.07" stroke="#111" stroke-width="1.15"/>
<text x="221.4" y="210.72" font-size="7.5" text-anchor="end" font-weight="normal" font-style="normal" fill="#1a1a1a" stroke="#1a1a1a" stroke-width="0.15" >7</text>
<text x="231.3" y="210.72" font-size="7.5" text-anchor="start" font-weight="normal" font-style="italic" fill="#1a1a1a" stroke="#1a1a1a" stroke-width="0.15" >RUNX1</text>
<rect x="270" y="204.77" width="40.20" height="6.6" fill="#dddddf"/>
<rect x="270" y="204.77" width="34.40" height="6.6" fill="#b9b9bd"/>
<rect x="295.70" y="204.77" width="2.8" height="6.6" fill="#f2f2f2"/>
<rect x="297.70" y="204.77" width="2.8" height="6.6" fill="#f2f2f2"/>
<rect x="302.90" y="204.77" width="2.8" height="6.6" fill="#f2f2f2"/>
<rect x="296.10" y="204.97" width="2.0" height="6.199999999999999" rx="0.4" fill="#c8102e"/>
<rect x="298.10" y="204.97" width="2.0" height="6.199999999999999" rx="0.4" fill="#3bb54a"/>
<rect x="303.30" y="204.97" width="2.0" height="6.199999999999999" rx="0.4" fill="#164a88"/>
<polygon points="311.10,204.67 317.60,208.07 311.10,211.47" fill="#4a1a78"/>
<line x1="224.2" y1="215.74" x2="227.8" y2="215.74" stroke="#111" stroke-width="1.15"/>
<text x="221.4" y="218.39" font-size="7.5" text-anchor="end" font-weight="normal" font-style="normal" fill="#1a1a1a" stroke="#1a1a1a" stroke-width="0.15" >18</text>
<text x="231.3" y="218.39" font-size="7.5" text-anchor="start" font-weight="normal" font-style="italic" fill="#1a1a1a" stroke="#1a1a1a" stroke-width="0.15" >TP53</text>
<rect x="270" y="212.44" width="39.20" height="6.6" fill="#dddddf"/>
<rect x="281.60" y="212.44" width="2.8" height="6.6" fill="#f2f2f2"/>
<rect x="301.10" y="212.44" width="2.8" height="6.6" fill="#f2f2f2"/>
<rect x="282.00" y="212.64" width="2.0" height="6.199999999999999" rx="0.4" fill="#c8102e"/>
<rect x="301.50" y="212.64" width="2.0" height="6.199999999999999" rx="0.4" fill="#164a88"/>
<polygon points="310.10,212.34 316.60,215.74 310.10,219.14" fill="#4a1a78"/>
<rect x="326.00" y="212.64" width="2.0" height="6.199999999999999" rx="0.4" fill="#3bb54a"/>
<line x1="224.2" y1="223.41" x2="227.8" y2="223.41" stroke="#111" stroke-width="1.15"/>
<text x="221.4" y="226.06" font-size="7.5" text-anchor="end" font-weight="normal" font-style="normal" fill="#1a1a1a" stroke="#1a1a1a" stroke-width="0.15" >19</text>
<text x="231.3" y="226.06" font-size="7.5" text-anchor="start" font-weight="normal" font-style="italic" fill="#1a1a1a" stroke="#1a1a1a" stroke-width="0.15" >SRSF2</text>
<rect x="270" y="220.11" width="38.30" height="6.6" fill="#dddddf"/>
<rect x="270" y="220.11" width="38.30" height="6.6" fill="#b9b9bd"/>
<rect x="288.20" y="220.11" width="2.8" height="6.6" fill="#f2f2f2"/>
<rect x="290.30" y="220.11" width="2.8" height="6.6" fill="#f2f2f2"/>
<rect x="292.40" y="220.11" width="2.8" height="6.6" fill="#f2f2f2"/>
<rect x="288.60" y="220.31" width="2.0" height="6.199999999999999" rx="0.4" fill="#c8102e"/>
<rect x="290.70" y="220.31" width="2.0" height="6.199999999999999" rx="0.4" fill="#3bb54a"/>
<rect x="292.80" y="220.31" width="2.0" height="6.199999999999999" rx="0.4" fill="#164a88"/>
<polygon points="309.20,220.01 315.70,223.41 309.20,226.81" fill="#4a1a78"/>
<line x1="224.2" y1="231.08" x2="227.8" y2="231.08" stroke="#111" stroke-width="1.15"/>
<text x="221.4" y="233.73" font-size="7.5" text-anchor="end" font-weight="normal" font-style="normal" fill="#1a1a1a" stroke="#1a1a1a" stroke-width="0.15" >21</text>
<text x="231.3" y="233.73" font-size="7.5" text-anchor="start" font-weight="normal" font-style="italic" fill="#1a1a1a" stroke="#1a1a1a" stroke-width="0.15" >RUNX1</text>
<rect x="270" y="227.78" width="30.50" height="6.6" fill="#dddddf"/>
<rect x="286.40" y="227.78" width="2.8" height="6.6" fill="#f2f2f2"/>
<rect x="294.90" y="227.78" width="2.8" height="6.6" fill="#f2f2f2"/>
<rect x="296.80" y="227.78" width="2.8" height="6.6" fill="#f2f2f2"/>
<rect x="286.80" y="227.98" width="2.0" height="6.199999999999999" rx="0.4" fill="#c8102e"/>
<rect x="295.30" y="227.98" width="2.0" height="6.199999999999999" rx="0.4" fill="#3bb54a"/>
<rect x="297.20" y="227.98" width="2.0" height="6.199999999999999" rx="0.4" fill="#164a88"/>
<polygon points="301.40,227.68 307.90,231.08 301.40,234.48" fill="#4a1a78"/>
<line x1="224.2" y1="238.75" x2="227.8" y2="238.75" stroke="#111" stroke-width="1.15"/>
<text x="221.4" y="241.40" font-size="7.5" text-anchor="end" font-weight="normal" font-style="normal" fill="#1a1a1a" stroke="#1a1a1a" stroke-width="0.15" >29</text>
<text x="231.3" y="241.40" font-size="7.5" text-anchor="start" font-weight="normal" font-style="italic" fill="#1a1a1a" stroke="#1a1a1a" stroke-width="0.15" >WT1</text>
<rect x="270" y="235.45" width="30.50" height="6.6" fill="#dddddf"/>
<rect x="292.60" y="235.45" width="2.8" height="6.6" fill="#f2f2f2"/>
<rect x="295.30" y="235.45" width="2.8" height="6.6" fill="#f2f2f2"/>
<rect x="293.00" y="235.65" width="2.0" height="6.199999999999999" rx="0.4" fill="#c8102e"/>
<rect x="295.70" y="235.65" width="2.0" height="6.199999999999999" rx="0.4" fill="#164a88"/>
<polygon points="301.40,235.35 307.90,238.75 301.40,242.15" fill="#4a1a78"/>
<line x1="224.2" y1="246.42" x2="227.8" y2="246.42" stroke="#111" stroke-width="1.15"/>
<text x="221.4" y="249.07" font-size="7.5" text-anchor="end" font-weight="normal" font-style="normal" fill="#1a1a1a" stroke="#1a1a1a" stroke-width="0.15" >6</text>
<text x="231.3" y="249.07" font-size="7.5" text-anchor="start" font-weight="normal" font-style="italic" fill="#1a1a1a" stroke="#1a1a1a" stroke-width="0.15" >U2AF1</text>
<rect x="270" y="243.12" width="30.30" height="6.6" fill="#dddddf"/>
<rect x="270" y="243.12" width="22.90" height="6.6" fill="#b9b9bd"/>
<rect x="292.00" y="243.12" width="2.8" height="6.6" fill="#f2f2f2"/>
<rect x="295.40" y="243.12" width="2.8" height="6.6" fill="#f2f2f2"/>
<rect x="297.30" y="243.12" width="2.8" height="6.6" fill="#f2f2f2"/>
<rect x="292.40" y="243.32" width="2.0" height="6.199999999999999" rx="0.4" fill="#3bb54a"/>
<rect x="295.80" y="243.32" width="2.0" height="6.199999999999999" rx="0.4" fill="#c8102e"/>
<rect x="297.70" y="243.32" width="2.0" height="6.199999999999999" rx="0.4" fill="#164a88"/>
<polygon points="301.20,243.02 307.70,246.42 301.20,249.82" fill="#4a1a78"/>
<line x1="224.2" y1="254.09" x2="227.8" y2="254.09" stroke="#111" stroke-width="1.15"/>
<text x="221.4" y="256.74" font-size="7.5" text-anchor="end" font-weight="normal" font-style="normal" fill="#1a1a1a" stroke="#1a1a1a" stroke-width="0.15" >11</text>
<text x="231.3" y="256.74" font-size="7.5" text-anchor="start" font-weight="normal" font-style="italic" fill="#1a1a1a" stroke="#1a1a1a" stroke-width="0.15" >U2AF1</text>
<rect x="270" y="250.79" width="28.60" height="6.6" fill="#dddddf"/>
<rect x="290.40" y="250.79" width="2.8" height="6.6" fill="#f2f2f2"/>
<rect x="294.30" y="250.79" width="2.8" height="6.6" fill="#f2f2f2"/>
<rect x="290.80" y="250.99" width="2.0" height="6.199999999999999" rx="0.4" fill="#c8102e"/>
<rect x="294.70" y="250.99" width="2.0" height="6.199999999999999" rx="0.4" fill="#164a88"/>
<polygon points="299.50,250.69 306.00,254.09 299.50,257.49" fill="#4a1a78"/>
<rect x="306.50" y="250.99" width="2.0" height="6.199999999999999" rx="0.4" fill="#3bb54a"/>
<line x1="224.2" y1="261.76" x2="227.8" y2="261.76" stroke="#111" stroke-width="1.15"/>
<text x="221.4" y="264.41" font-size="7.5" text-anchor="end" font-weight="normal" font-style="normal" fill="#1a1a1a" stroke="#1a1a1a" stroke-width="0.15" >4</text>
<text x="231.3" y="264.41" font-size="7.5" text-anchor="start" font-weight="normal" font-style="italic" fill="#1a1a1a" stroke="#1a1a1a" stroke-width="0.15" >GATA2</text>
<rect x="270" y="258.46" width="26.80" height="6.6" fill="#dddddf"/>
<rect x="280.70" y="258.46" width="2.8" height="6.6" fill="#f2f2f2"/>
<rect x="291.70" y="258.46" width="2.8" height="6.6" fill="#f2f2f2"/>
<rect x="281.10" y="258.66" width="2.0" height="6.199999999999999" rx="0.4" fill="#c8102e"/>
<rect x="292.10" y="258.66" width="2.0" height="6.199999999999999" rx="0.4" fill="#164a88"/>
<polygon points="297.70,258.36 304.20,261.76 297.70,265.16" fill="#4a1a78"/>
<line x1="224.2" y1="269.43" x2="227.8" y2="269.43" stroke="#111" stroke-width="1.15"/>
<text x="221.4" y="272.08" font-size="7.5" text-anchor="end" font-weight="normal" font-style="normal" fill="#1a1a1a" stroke="#1a1a1a" stroke-width="0.15" >2</text>
<text x="231.3" y="272.08" font-size="7.5" text-anchor="start" font-weight="normal" font-style="italic" fill="#1a1a1a" stroke="#1a1a1a" stroke-width="0.15" >RUNX1</text>
<rect x="270" y="266.13" width="26.90" height="6.6" fill="#dddddf"/>
<rect x="270" y="266.13" width="26.30" height="6.6" fill="#b9b9bd"/>
<rect x="284.50" y="266.13" width="2.8" height="6.6" fill="#f2f2f2"/>
<rect x="286.50" y="266.13" width="2.8" height="6.6" fill="#f2f2f2"/>
<rect x="291.50" y="266.13" width="2.8" height="6.6" fill="#f2f2f2"/>
<rect x="284.90" y="266.33" width="2.0" height="6.199999999999999" rx="0.4" fill="#c8102e"/>
<rect x="286.90" y="266.33" width="2.0" height="6.199999999999999" rx="0.4" fill="#3bb54a"/>
<rect x="291.90" y="266.33" width="2.0" height="6.199999999999999" rx="0.4" fill="#164a88"/>
<polygon points="297.80,266.03 304.30,269.43 297.80,272.83" fill="#4a1a78"/>
<line x1="224.2" y1="277.10" x2="227.8" y2="277.10" stroke="#111" stroke-width="1.15"/>
<text x="221.4" y="279.75" font-size="7.5" text-anchor="end" font-weight="normal" font-style="normal" fill="#1a1a1a" stroke="#1a1a1a" stroke-width="0.15" >28</text>
<text x="231.3" y="279.75" font-size="7.5" text-anchor="start" font-weight="normal" font-style="italic" fill="#1a1a1a" stroke="#1a1a1a" stroke-width="0.15" >KRAS</text>
<rect x="270" y="273.80" width="26.50" height="6.6" fill="#dddddf"/>
<rect x="285.70" y="273.80" width="2.8" height="6.6" fill="#f2f2f2"/>
<rect x="292.20" y="273.80" width="2.8" height="6.6" fill="#f2f2f2"/>
<rect x="286.10" y="274.00" width="2.0" height="6.199999999999999" rx="0.4" fill="#c8102e"/>
<rect x="292.60" y="274.00" width="2.0" height="6.199999999999999" rx="0.4" fill="#164a88"/>
<polygon points="297.40,273.70 303.90,277.10 297.40,280.50" fill="#4a1a78"/>
<rect x="303.80" y="274.00" width="2.0" height="6.199999999999999" rx="0.4" fill="#3bb54a"/>
<line x1="224.2" y1="284.77" x2="227.8" y2="284.77" stroke="#111" stroke-width="1.15"/>
<text x="221.4" y="287.42" font-size="7.5" text-anchor="end" font-weight="normal" font-style="normal" fill="#1a1a1a" stroke="#1a1a1a" stroke-width="0.15" >3</text>
<text x="231.3" y="287.42" font-size="7.5" text-anchor="start" font-weight="normal" font-style="italic" fill="#1a1a1a" stroke="#1a1a1a" stroke-width="0.15" >TET2</text>
<rect x="270" y="281.47" width="24.60" height="6.6" fill="#dddddf"/>
<rect x="270" y="281.47" width="19.50" height="6.6" fill="#b9b9bd"/>
<rect x="288.90" y="281.47" width="2.8" height="6.6" fill="#f2f2f2"/>
<rect x="290.90" y="281.47" width="2.8" height="6.6" fill="#f2f2f2"/>
<rect x="289.30" y="281.67" width="2.0" height="6.199999999999999" rx="0.4" fill="#c8102e"/>
<rect x="291.30" y="281.67" width="2.0" height="6.199999999999999" rx="0.4" fill="#164a88"/>
<polygon points="295.50,281.37 302.00,284.77 295.50,288.17" fill="#4a1a78"/>
<line x1="224.2" y1="292.44" x2="227.8" y2="292.44" stroke="#111" stroke-width="1.15"/>
<text x="221.4" y="295.09" font-size="7.5" text-anchor="end" font-weight="normal" font-style="normal" fill="#1a1a1a" stroke="#1a1a1a" stroke-width="0.15" >9</text>
<text x="231.3" y="295.09" font-size="7.5" text-anchor="start" font-weight="normal" font-style="italic" fill="#1a1a1a" stroke="#1a1a1a" stroke-width="0.15" >TP53</text>
<rect x="270" y="289.14" width="22.70" height="6.6" fill="#dddddf"/>
<rect x="270" y="289.14" width="16.00" height="6.6" fill="#b9b9bd"/>
<rect x="279.60" y="289.14" width="2.8" height="6.6" fill="#f2f2f2"/>
<rect x="285.10" y="289.14" width="2.8" height="6.6" fill="#f2f2f2"/>
<rect x="288.80" y="289.14" width="2.8" height="6.6" fill="#f2f2f2"/>
<rect x="280.00" y="289.34" width="2.0" height="6.199999999999999" rx="0.4" fill="#3bb54a"/>
<rect x="285.50" y="289.34" width="2.0" height="6.199999999999999" rx="0.4" fill="#c8102e"/>
<rect x="289.20" y="289.34" width="2.0" height="6.199999999999999" rx="0.4" fill="#164a88"/>
<polygon points="293.60,289.04 300.10,292.44 293.60,295.84" fill="#4a1a78"/>
<line x1="224.2" y1="300.11" x2="227.8" y2="300.11" stroke="#111" stroke-width="1.15"/>
<text x="221.4" y="302.76" font-size="7.5" text-anchor="end" font-weight="normal" font-style="normal" fill="#1a1a1a" stroke="#1a1a1a" stroke-width="0.15" >22</text>
<text x="231.3" y="302.76" font-size="7.5" text-anchor="start" font-weight="normal" font-style="italic" fill="#1a1a1a" stroke="#1a1a1a" stroke-width="0.15" >IDH2</text>
<rect x="270" y="296.81" width="20.60" height="6.6" fill="#dddddf"/>
<rect x="280.50" y="296.81" width="2.8" height="6.6" fill="#f2f2f2"/>
<rect x="285.50" y="296.81" width="2.8" height="6.6" fill="#f2f2f2"/>
<rect x="287.20" y="296.81" width="2.8" height="6.6" fill="#f2f2f2"/>
<rect x="280.90" y="297.01" width="2.0" height="6.199999999999999" rx="0.4" fill="#c8102e"/>
<rect x="285.90" y="297.01" width="2.0" height="6.199999999999999" rx="0.4" fill="#164a88"/>
<rect x="287.60" y="297.01" width="2.0" height="6.199999999999999" rx="0.4" fill="#3bb54a"/>
<polygon points="291.50,296.71 298.00,300.11 291.50,303.51" fill="#4a1a78"/>
<line x1="269.6" y1="305.4" x2="419.9" y2="305.4" stroke="#111" stroke-width="1.25"/>
<line x1="270.20" y1="302.4" x2="270.20" y2="305.4" stroke="#111" stroke-width="1.15"/>
<text x="270.20" y="316" font-size="7.4" text-anchor="middle" font-weight="normal" font-style="normal" fill="#1a1a1a" >0</text>
<line x1="307.45" y1="302.4" x2="307.45" y2="305.4" stroke="#111" stroke-width="1.15"/>
<text x="307.45" y="316" font-size="7.4" text-anchor="middle" font-weight="normal" font-style="normal" fill="#1a1a1a" >200</text>
<line x1="344.70" y1="302.4" x2="344.70" y2="305.4" stroke="#111" stroke-width="1.15"/>
<text x="344.70" y="316" font-size="7.4" text-anchor="middle" font-weight="normal" font-style="normal" fill="#1a1a1a" >400</text>
<line x1="381.95" y1="302.4" x2="381.95" y2="305.4" stroke="#111" stroke-width="1.15"/>
<text x="381.95" y="316" font-size="7.4" text-anchor="middle" font-weight="normal" font-style="normal" fill="#1a1a1a" >600</text>
<line x1="419.20" y1="302.4" x2="419.20" y2="305.4" stroke="#111" stroke-width="1.15"/>
<text x="419.20" y="316" font-size="7.4" text-anchor="middle" font-weight="normal" font-style="normal" fill="#1a1a1a" >800</text>
<text x="0" y="0" transform="translate(317,329.4) rotate(0)" font-size="8.6" font-weight="bold" fill="#1a1a1a" textLength="55.8" lengthAdjust="spacingAndGlyphs">Time post Tx [days]</text>
<text x="484.5" y="176.3" font-size="11" text-anchor="start" font-weight="bold" font-style="normal" fill="#000" stroke="#000" stroke-width="0.35">C</text>
<line x1="409.6" y1="185" x2="409.6" y2="258.4" stroke="#111" stroke-width="1.25"/>
<line x1="409.1" y1="257.8" x2="487" y2="257.8" stroke="#111" stroke-width="1.25"/>
<line x1="405.8" y1="196.6" x2="409.6" y2="196.6" stroke="#111" stroke-width="1.15"/>
<text x="404.8" y="199.35" font-size="8.0" text-anchor="end" font-weight="normal" font-style="normal" fill="#1a1a1a" stroke="#1a1a1a" stroke-width="0.18">NGS gDNA</text>
<line x1="405.8" y1="221.6" x2="409.6" y2="221.6" stroke="#111" stroke-width="1.15"/>
<text x="404.8" y="224.35" font-size="8.0" text-anchor="end" font-weight="normal" font-style="normal" fill="#1a1a1a" stroke="#1a1a1a" stroke-width="0.18">NGS CD34+</text>
<line x1="405.8" y1="245.6" x2="409.6" y2="245.6" stroke="#111" stroke-width="1.15"/>
<text x="404.8" y="248.35" font-size="8.0" text-anchor="end" font-weight="normal" font-style="normal" fill="#1a1a1a" stroke="#1a1a1a" stroke-width="0.18">CD34+ DC</text>
<line x1="418.75" y1="196.6" x2="439.4" y2="196.6" stroke="#333" stroke-width="0.9"/>
<line x1="418.75" y1="192.6" x2="418.75" y2="200.6" stroke="#333" stroke-width="0.9"/>
<line x1="439.4" y1="192.6" x2="439.4" y2="200.6" stroke="#333" stroke-width="0.9"/>
<rect x="439.4" y="189" width="42.700000000000045" height="15.699999999999989" fill="#3cb44a"/>
<line x1="416.5" y1="221.6" x2="459" y2="221.6" stroke="#333" stroke-width="0.9"/>
<line x1="416.5" y1="217.6" x2="416.5" y2="225.6" stroke="#333" stroke-width="0.9"/>
<line x1="459" y1="217.6" x2="459" y2="225.6" stroke="#333" stroke-width="0.9"/>
<rect x="431.2" y="213.3" width="11.100000000000023" height="16.099999999999994" fill="#c8102e" stroke="#a80d27" stroke-width="0.6"/>
<line x1="437.5" y1="213.3" x2="437.5" y2="229.4" stroke="#111" stroke-width="1.1"/>
<line x1="425.6" y1="245.6" x2="463.4" y2="245.6" stroke="#333" stroke-width="0.9"/>
<line x1="425.6" y1="241.6" x2="425.6" y2="249.6" stroke="#333" stroke-width="0.9"/>
<line x1="463.4" y1="241.6" x2="463.4" y2="249.6" stroke="#333" stroke-width="0.9"/>
<rect x="445.5" y="237.8" width="8.800000000000011" height="15.599999999999994" fill="#1b5796" stroke="#0d3d73" stroke-width="0.6"/>
<line x1="451.3" y1="237.8" x2="451.3" y2="253.4" stroke="#111" stroke-width="1.1"/>
<line x1="409.75" y1="257.8" x2="409.75" y2="260.6" stroke="#111" stroke-width="1.1"/>
<text x="409.75" y="269.2" font-size="7.8" text-anchor="middle" font-weight="normal" font-style="normal" fill="#1a1a1a" >1000</text>
<line x1="426.76" y1="257.8" x2="426.76" y2="259.4" stroke="#111" stroke-width="0.6"/>
<line x1="422.47" y1="257.8" x2="422.47" y2="259.4" stroke="#111" stroke-width="0.6"/>
<line x1="419.43" y1="257.8" x2="419.43" y2="259.4" stroke="#111" stroke-width="0.6"/>
<line x1="417.07" y1="257.8" x2="417.07" y2="259.4" stroke="#111" stroke-width="0.6"/>
<line x1="415.15" y1="257.8" x2="415.15" y2="259.4" stroke="#111" stroke-width="0.6"/>
<line x1="413.52" y1="257.8" x2="413.52" y2="259.4" stroke="#111" stroke-width="0.6"/>
<line x1="412.11" y1="257.8" x2="412.11" y2="259.4" stroke="#111" stroke-width="0.6"/>
<line x1="410.86" y1="257.8" x2="410.86" y2="259.4" stroke="#111" stroke-width="0.6"/>
<line x1="434.08" y1="257.8" x2="434.08" y2="260.6" stroke="#111" stroke-width="1.1"/>
<text x="434.08" y="269.2" font-size="7.8" text-anchor="middle" font-weight="normal" font-style="normal" fill="#1a1a1a" >100</text>
<line x1="451.09" y1="257.8" x2="451.09" y2="259.4" stroke="#111" stroke-width="0.6"/>
<line x1="446.80" y1="257.8" x2="446.80" y2="259.4" stroke="#111" stroke-width="0.6"/>
<line x1="443.76" y1="257.8" x2="443.76" y2="259.4" stroke="#111" stroke-width="0.6"/>
<line x1="441.40" y1="257.8" x2="441.40" y2="259.4" stroke="#111" stroke-width="0.6"/>
<line x1="439.48" y1="257.8" x2="439.48" y2="259.4" stroke="#111" stroke-width="0.6"/>
<line x1="437.85" y1="257.8" x2="437.85" y2="259.4" stroke="#111" stroke-width="0.6"/>
<line x1="436.44" y1="257.8" x2="436.44" y2="259.4" stroke="#111" stroke-width="0.6"/>
<line x1="435.19" y1="257.8" x2="435.19" y2="259.4" stroke="#111" stroke-width="0.6"/>
<line x1="458.41" y1="257.8" x2="458.41" y2="260.6" stroke="#111" stroke-width="1.1"/>
<text x="458.41" y="269.2" font-size="7.8" text-anchor="middle" font-weight="normal" font-style="normal" fill="#1a1a1a" >10</text>
<line x1="475.42" y1="257.8" x2="475.42" y2="259.4" stroke="#111" stroke-width="0.6"/>
<line x1="471.13" y1="257.8" x2="471.13" y2="259.4" stroke="#111" stroke-width="0.6"/>
<line x1="468.09" y1="257.8" x2="468.09" y2="259.4" stroke="#111" stroke-width="0.6"/>
<line x1="465.73" y1="257.8" x2="465.73" y2="259.4" stroke="#111" stroke-width="0.6"/>
<line x1="463.81" y1="257.8" x2="463.81" y2="259.4" stroke="#111" stroke-width="0.6"/>
<line x1="462.18" y1="257.8" x2="462.18" y2="259.4" stroke="#111" stroke-width="0.6"/>
<line x1="460.77" y1="257.8" x2="460.77" y2="259.4" stroke="#111" stroke-width="0.6"/>
<line x1="459.52" y1="257.8" x2="459.52" y2="259.4" stroke="#111" stroke-width="0.6"/>
<line x1="482.74" y1="257.8" x2="482.74" y2="260.6" stroke="#111" stroke-width="1.1"/>
<text x="482.74" y="269.2" font-size="7.8" text-anchor="middle" font-weight="normal" font-style="normal" fill="#1a1a1a" >1</text>
<text x="0" y="0" transform="translate(405,282.6) rotate(0)" font-size="8.4" font-weight="bold" fill="#1a1a1a" textLength="82" lengthAdjust="spacingAndGlyphs">MRD pos. prior to azacitidine</text>
<text x="0" y="0" transform="translate(421.8,293.6) rotate(0)" font-size="8.4" font-weight="bold" fill="#1a1a1a" textLength="48.8" lengthAdjust="spacingAndGlyphs">treatment [days]</text>
<text x="481.3" y="217.2" font-size="7.6" fill="#1a1a1a" stroke="#1a1a1a" stroke-width="0.2" textLength="29" lengthAdjust="spacingAndGlyphs"><tspan font-style="italic">P</tspan>=.0011</text>
<path d="M481.3,221.6 H484.6 V246 H481.3" fill="none" stroke="#333" stroke-width="0.9"/>
<text x="488.4" y="236.6" font-size="6.5" text-anchor="middle" font-weight="normal" font-style="normal" fill="#1a1a1a" stroke="#1a1a1a" stroke-width="0.15" >*</text>
<path d="M0,0H520V337H0Z M1.1,1.1V335.9H518.9V1.1Z" fill="#000" fill-rule="evenodd"/>
</svg></body></html>
